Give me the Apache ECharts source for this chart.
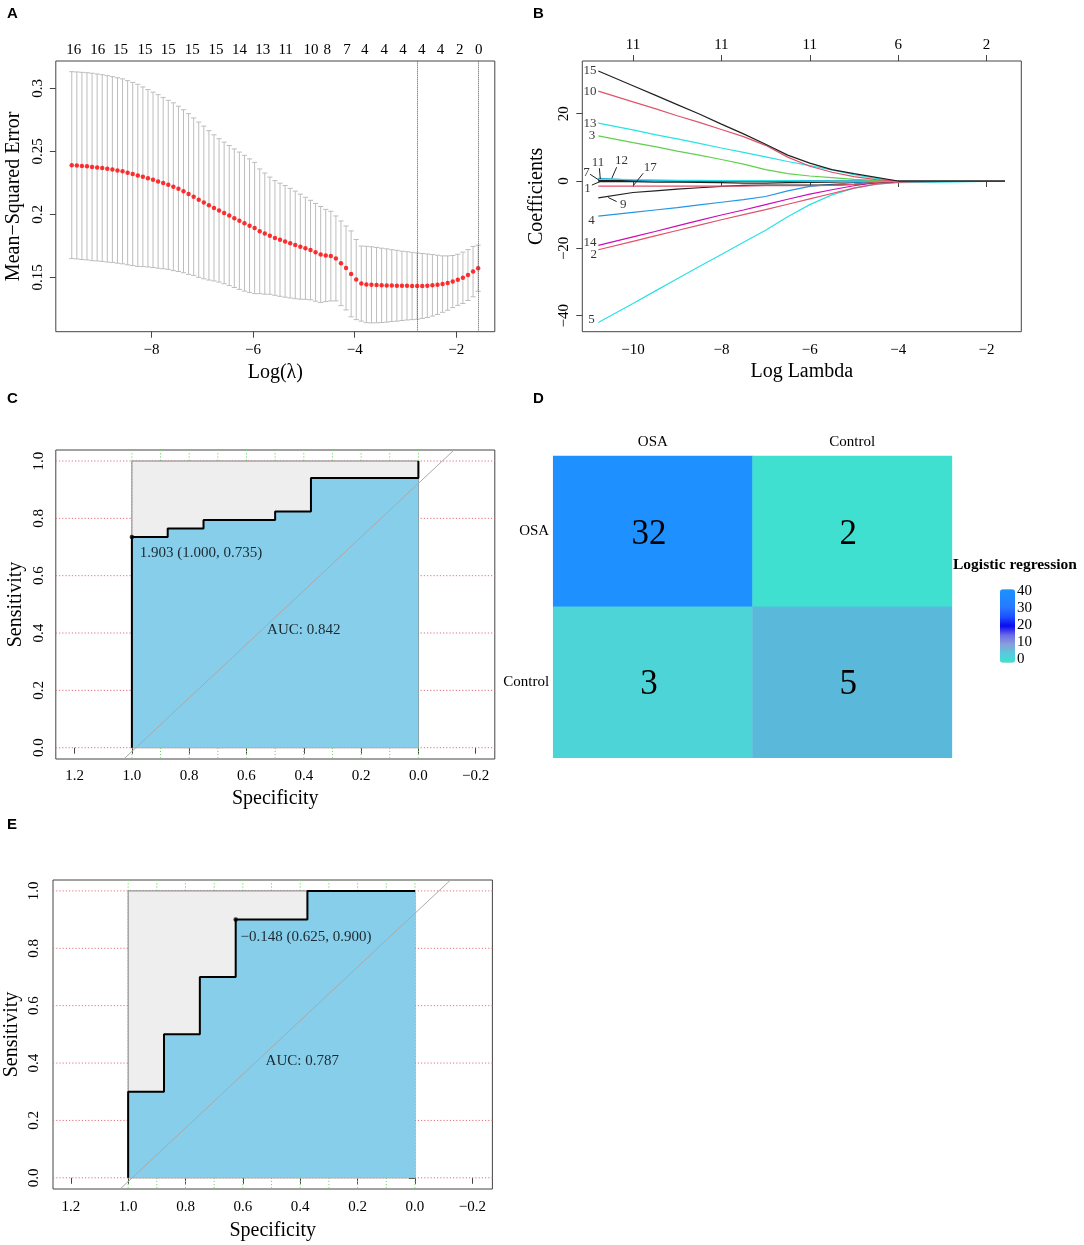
<!DOCTYPE html>
<html>
<head>
<meta charset="utf-8">
<title>LASSO / ROC / confusion matrix</title>
<script src="https://cdn.jsdelivr.net/npm/echarts@6/dist/echarts.min.js"></script>
<style>
  html, body { margin: 0; padding: 0; background: #fff; }
  #main { width: 1084px; height: 1245px; }
</style>
</head>
<body>
<div id="main"></div>
<script>
// ---------- panel A : cross-validation curve ----------
var aLogLambda = [
  -9.57, -9.47, -9.37, -9.27, -9.17, -9.07, -8.97, -8.87, -8.77, -8.67,
  -8.57, -8.47, -8.37, -8.27, -8.17, -8.07, -7.97, -7.87, -7.77, -7.67,
  -7.57, -7.47, -7.37, -7.27, -7.17, -7.07, -6.97, -6.87, -6.77, -6.67,
  -6.57, -6.47, -6.37, -6.27, -6.17, -6.07, -5.97, -5.87, -5.77, -5.67,
  -5.57, -5.47, -5.37, -5.27, -5.17, -5.07, -4.97, -4.87, -4.77, -4.67,
  -4.57, -4.47, -4.37, -4.27, -4.17, -4.07, -3.97, -3.87, -3.77, -3.67,
  -3.57, -3.47, -3.37, -3.27, -3.17, -3.07, -2.97, -2.87, -2.77, -2.67,
  -2.57, -2.47, -2.37, -2.27, -2.17, -2.07, -1.97, -1.87, -1.77, -1.67,
  -1.57
];
var aCvm = [
  0.2390, 0.2388, 0.2384, 0.2381, 0.2376, 0.2372, 0.2367, 0.2361, 0.2355, 0.2348,
  0.2341, 0.2330, 0.2320, 0.2309, 0.2298, 0.2286, 0.2274, 0.2261, 0.2248, 0.2234,
  0.2219, 0.2202, 0.2183, 0.2161, 0.2140, 0.2116, 0.2094, 0.2071, 0.2051, 0.2031,
  0.2011, 0.1990, 0.1969, 0.1949, 0.1929, 0.1910, 0.1891, 0.1865, 0.1847, 0.1830,
  0.1812, 0.1798, 0.1785, 0.1771, 0.1757, 0.1743, 0.1730, 0.1716, 0.1698, 0.1681,
  0.1673, 0.1668, 0.1650, 0.1611, 0.1574, 0.1527, 0.1482, 0.1450, 0.1443, 0.1440,
  0.1438, 0.1436, 0.1435, 0.1434, 0.1433, 0.1432, 0.1432, 0.1431, 0.1430, 0.1431,
  0.1433, 0.1436, 0.1440, 0.1446, 0.1454, 0.1466, 0.1480, 0.1496, 0.1518, 0.1545,
  0.1572
];
var aCvsd = [
  0.0742, 0.0742, 0.0743, 0.0743, 0.0744, 0.0742, 0.0741, 0.0740, 0.0738, 0.0736,
  0.0734, 0.0731, 0.0727, 0.0723, 0.0713, 0.0704, 0.0696, 0.0689, 0.0680, 0.0671,
  0.0666, 0.0656, 0.0647, 0.0638, 0.0625, 0.0616, 0.0606, 0.0593, 0.0580, 0.0569,
  0.0562, 0.0556, 0.0550, 0.0545, 0.0539, 0.0530, 0.0521, 0.0495, 0.0481, 0.0465,
  0.0455, 0.0449, 0.0443, 0.0435, 0.0427, 0.0417, 0.0405, 0.0395, 0.0388, 0.0381,
  0.0366, 0.0356, 0.0337, 0.0336, 0.0333, 0.0341, 0.0318, 0.0298, 0.0303, 0.0302,
  0.0299, 0.0295, 0.0291, 0.0285, 0.0281, 0.0275, 0.0271, 0.0267, 0.0263, 0.0258,
  0.0252, 0.0244, 0.0235, 0.0224, 0.0216, 0.0207, 0.0203, 0.0204, 0.0202, 0.0200,
  0.0183
];
var aTopPos = [-9.53, -9.06, -8.61, -8.13, -7.67, -7.20, -6.73, -6.27, -5.81, -5.36,
               -4.86, -4.54, -4.15, -3.80, -3.42, -3.05, -2.68, -2.31, -1.93, -1.56];
var aTopNz = [16, 16, 15, 15, 15, 15, 15, 14, 13, 11, 10, 8, 7, 4, 4, 4, 4, 4, 2, 0];
var aCutLines = [-2.77, -1.57];
var aXTicks = [-8, -6, -4, -2];
var aYTicks = [0.15, 0.2, 0.25, 0.3];

// ---------- panel B : coefficient paths ----------
var bLogLambda = [-10.785, -10, -9.5, -9, -8.5, -8, -7.5, -7, -6.5, -6, -5.5, -5, -4.5, -4, -3, -2, -1.584];
var b15 = [32.7, 28.3, 25.5, 22.7, 19.9, 16.9, 14.0, 10.9, 7.7, 5.3, 3.4, 2.2, 1.1, 0, 0, 0, 0];
var b10 = [26.7, 23.5, 21.5, 19.4, 17.4, 15.3, 13.2, 10.6, 7.1, 4.4, 2.6, 1.3, 0.4, 0, 0, 0, 0];
var b13 = [17.2, 15.2, 13.8, 12.5, 11.2, 9.8, 8.5, 7.2, 5.8, 4.6, 3.3, 1.9, 0.8, 0, 0, 0, 0];
var b3  = [13.4, 11.4, 10.2, 8.9, 7.7, 6.4, 5.0, 3.4, 2.2, 1.5, 1.0, 0.5, 0.2, 0, 0, 0, 0];
var b11 = [0.6, 0.4, 0.3, 0.2, 0.2, 0.1, 0.1, 0.1, 0.1, 0, 0, 0, 0, 0, 0, 0, 0];
var b12 = [0.8, 0.3, 0.2, 0.1, 0.1, 0.1, 0.1, 0.1, 0.1, 0.1, 0, 0, 0, 0, 0, 0, 0];
var b7  = [0.2, 0.1, 0.1, 0, 0, 0, 0, 0, 0, 0, 0, 0, 0, 0, 0, 0, 0];
var b1  = [-0.2, -0.2, -0.3, -0.3, -0.4, -0.5, -0.6, -0.6, -0.5, -0.4, -0.3, -0.2, -0.1, 0, 0, 0, 0];
var b17 = [-1.5, -1.5, -1.5, -1.5, -1.5, -1.5, -1.5, -1.4, -1.4, -1.4, -1.3, -1.0, -0.4, 0, 0, 0, 0];
var b9  = [-5.0, -3.4, -2.9, -2.4, -2.0, -1.6, -1.3, -1.2, -1.2, -1.2, -1.2, -1.0, -0.5, 0, 0, 0, 0];
var b4  = [-10.4, -9.3, -8.6, -7.9, -7.1, -6.3, -5.5, -4.6, -2.9, -1.6, -1.0, -0.5, -0.2, 0, 0, 0, 0];
var b14 = [-19.1, -16.6, -15.0, -13.3, -11.7, -10.1, -8.6, -7.0, -5.4, -3.9, -2.6, -1.4, -0.5, 0, 0, 0, 0];
var b2  = [-20.4, -17.9, -16.3, -14.7, -13.1, -11.5, -10.0, -8.5, -6.9, -5.3, -3.7, -2.1, -0.9, -0.3, -0.1, 0, 0];
var b5  = [-42.0, -36.4, -32.7, -29.0, -25.4, -21.8, -18.2, -14.6, -10.6, -7.0, -4.1, -2.1, -0.9, -0.5, -0.3, -0.1, -0.1];
var bLabText = ['15', '10', '13', '3', '11', '12', '17', '7', '1', '9', '4', '14', '2', '5'];
var bLabX = [-10.97, -10.97, -10.97, -10.93, -10.79, -10.26, -9.61, -11.05, -11.03, -10.22, -10.94, -10.97, -10.89, -10.94];
var bLabY = [32.7, 26.7, 17.2, 13.4, 5.5, 6.2, 4.0, 2.5, -2.3, -7.1, -11.8, -18.2, -21.8, -41.1];
var bLeaders = [
  [-10.76, 3.8, -10.74, 0.6],
  [-10.37, 4.1, -10.48, 0.8],
  [-9.77, 2.3, -9.99, -1.3],
  [-10.97, 2.0, -10.75, 0.1],
  [-10.93, -1.2, -10.75, -0.2],
  [-10.37, -6.1, -10.56, -4.9]
];
var bXTicks = [-10, -8, -6, -4, -2];
var bTopNz = [11, 11, 11, 6, 2];
var bYTicks = [-40, -20, 0, 20];

// ---------- panels C and E : ROC curves ----------
var cSpec = [1, 1, 0.875, 0.875, 0.75, 0.75, 0.5, 0.5, 0.375, 0.375, 0, 0];
var cSens = [0, 0.735, 0.735, 0.765, 0.765, 0.794, 0.794, 0.824, 0.824, 0.941, 0.941, 1];
var cBest = [1.0, 0.735];
var cBestText = '1.903 (1.000, 0.735)';
var cAucText = 'AUC: 0.842';

var eSpec = [1, 1, 0.875, 0.875, 0.75, 0.75, 0.625, 0.625, 0.375, 0.375, 0];
var eSens = [0, 0.3, 0.3, 0.5, 0.5, 0.7, 0.7, 0.9, 0.9, 1, 1];
var eBest = [0.625, 0.9];
var eBestText = '\u22120.148 (0.625, 0.900)';
var eAucText = 'AUC: 0.787';

var rocXTicks = [1.2, 1.0, 0.8, 0.6, 0.4, 0.2, 0.0, -0.2];
var rocYTicks = [0, 0.2, 0.4, 0.6, 0.8, 1.0];
var rocGridV = [0, 0.1, 0.2, 0.3, 0.4, 0.5, 0.6, 0.7, 0.8, 0.9, 1.0];
var rocMaxPoly = [[1, 0], [1, 1], [0, 1], [0, 0], [1, 0]];
var rocDiag = [[1.028, -0.0394], [-0.1245, 1.0384]];

// ---------- panel D : confusion matrix ----------
var dCols = ['OSA', 'Control'];
var dRows = ['Control', 'OSA'];
var dCells = [[0, 1, 32], [1, 1, 2], [0, 0, 3], [1, 0, 5]];
var dCellColors = ['#1E90FF', '#40E0D0', '#4DD4D6', '#5AB9DA'];
var dLegendTicks = [0, 10, 20, 30, 40];

var FONT = 'Liberation Serif';

function rmin(s) { return String(s).replace('-', '\u2212'); }

function vAxis(o) {
  return {
    type: 'value', gridIndex: o.grid, position: o.pos, min: o.min, max: o.max,
    inverse: !!o.inverse,
    name: o.name || '', nameLocation: 'middle', nameGap: o.nameGap || 30,
    nameTextStyle: { fontFamily: FONT, fontSize: 20, color: '#000' },
    axisLine: { show: false },
    axisTick: { show: o.tick !== false, customValues: o.ticks, length: 6, lineStyle: { color: '#444' } },
    axisLabel: {
      customValues: o.ticks, formatter: o.fmt, margin: o.margin, rotate: o.rotate || 0,
      fontFamily: FONT, fontSize: 15, color: '#000'
    },
    splitLine: { show: false }
  };
}

function boxGrid(left, top, width, height) {
  return { left: left, top: top, width: width, height: height, show: true,
           borderColor: '#444', borderWidth: 1, backgroundColor: 'transparent',
           containLabel: false, outerBoundsMode: 'none' };
}

function segRender(color) {
  return function (params, api) {
    var p1 = api.coord([api.value(0), api.value(1)]);
    var p2 = api.coord([api.value(2), api.value(3)]);
    return { type: 'line', shape: { x1: p1[0], y1: p1[1], x2: p2[0], y2: p2[1] },
             style: { stroke: color, lineWidth: 1 } };
  };
}

function errBar(params, api) {
  var x = api.value(0);
  var top = api.coord([x, api.value(2)]);
  var bot = api.coord([x, api.value(1)]);
  var w = 2.6;
  var st = { stroke: '#BDBDBD', lineWidth: 1 };
  return { type: 'group', children: [
    { type: 'line', shape: { x1: top[0], y1: top[1], x2: bot[0], y2: bot[1] }, style: st },
    { type: 'line', shape: { x1: top[0] - w, y1: top[1], x2: top[0] + w, y2: top[1] }, style: st },
    { type: 'line', shape: { x1: bot[0] - w, y1: bot[1], x2: bot[0] + w, y2: bot[1] }, style: st }
  ] };
}

// dotted grid lines spanning the whole plot box (horizontal or vertical)
function gridLineRender(horizontal, color) {
  return function (params, api) {
    var cs = params.coordSys;
    var v = api.value(0);
    var shape;
    if (horizontal) {
      var y = api.coord([0.5, v])[1];
      shape = { x1: cs.x, y1: y, x2: cs.x + cs.width, y2: y };
    } else {
      var x = api.coord([v, 0.5])[0];
      shape = { x1: x, y1: cs.y, x2: x, y2: cs.y + cs.height };
    }
    return { type: 'line', shape: shape, style: { stroke: color, lineWidth: 1, lineDash: [1.2, 2] } };
  };
}

function rocSeries(xi, yi, spec, sens, best, bestText, bestPos, aucText, aucPos) {
  return [
    { type: 'custom', xAxisIndex: xi, yAxisIndex: yi, silent: true, z: 1,
      renderItem: gridLineRender(true, '#E3707E'), data: rocYTicks.map(function (v) { return [v]; }) },
    { type: 'custom', xAxisIndex: xi, yAxisIndex: yi, silent: true, z: 1,
      renderItem: gridLineRender(false, '#74D468'), data: rocGridV.map(function (v) { return [v]; }) },
    { type: 'line', xAxisIndex: xi, yAxisIndex: yi, data: rocMaxPoly, showSymbol: false, silent: true, z: 2,
      lineStyle: { color: '#808080', width: 1 }, areaStyle: { color: '#EEEEEE', opacity: 1 } },
    { type: 'line', xAxisIndex: xi, yAxisIndex: yi, showSymbol: false, silent: true, z: 3,
      data: spec.map(function (s, k) { return [s, sens[k]]; }),
      lineStyle: { color: '#000', width: 2 }, areaStyle: { color: '#87CEEB', opacity: 1 } },
    { type: 'line', xAxisIndex: xi, yAxisIndex: yi, data: rocDiag, showSymbol: false, silent: true, z: 4,
      lineStyle: { color: '#A9A9A9', width: 1 } },
    { type: 'scatter', xAxisIndex: xi, yAxisIndex: yi, data: [best], symbolSize: 4.5, z: 5,
      itemStyle: { color: '#000' },
      label: { show: true, formatter: bestText, position: bestPos, align: 'left', verticalAlign: 'middle',
               fontFamily: FONT, fontSize: 15, color: '#000' } },
    { type: 'scatter', xAxisIndex: xi, yAxisIndex: yi, data: [aucPos], symbolSize: 0, z: 5,
      label: { show: true, formatter: aucText, position: 'inside',
               fontFamily: FONT, fontSize: 15, color: '#000' } }
  ];
}

var bLineDefs = [
  [b5, '#28E2E5'], [b2, '#DF536B'], [b14, '#CD0BBC'], [b4, '#2297E6'], [b9, '#222222'],
  [b17, '#DF536B'], [b1, '#222222'], [b7, '#222222'], [b12, '#2297E6'], [b11, '#28E2E5'],
  [b3, '#61D04F'], [b13, '#28E2E5'], [b10, '#DF536B'], [b15, '#222222']
];

var series = [];

// A
series.push({
  type: 'custom', xAxisIndex: 0, yAxisIndex: 0, renderItem: errBar, silent: true, z: 2,
  encode: { x: 0, y: [1, 2] },
  data: aLogLambda.map(function (x, k) { return [x, aCvm[k] - aCvsd[k], aCvm[k] + aCvsd[k]]; })
});
series.push({
  type: 'scatter', xAxisIndex: 0, yAxisIndex: 0, symbolSize: 4.5, z: 3,
  itemStyle: { color: '#FF0000' },
  data: aLogLambda.map(function (x, k) { return [x, aCvm[k]]; }),
  markLine: { silent: true, symbol: 'none', label: { show: false },
              lineStyle: { color: '#555', type: 'dotted', width: 1 },
              data: aCutLines.map(function (v) { return { xAxis: v }; }) }
});

// B
bLineDefs.forEach(function (d) {
  series.push({
    type: 'line', xAxisIndex: 2, yAxisIndex: 1, showSymbol: false, silent: true, z: 2,
    smooth: false,
    lineStyle: { color: d[1], width: 1.2 },
    data: bLogLambda.map(function (x, k) { return [x, d[0][k]]; })
  });
});
series.push({
  type: 'custom', xAxisIndex: 2, yAxisIndex: 1, renderItem: segRender('#222'), silent: true, z: 3,
  encode: { x: [0, 2], y: [1, 3] }, data: bLeaders
});
series.push({
  type: 'scatter', xAxisIndex: 2, yAxisIndex: 1, symbolSize: 0, silent: true, z: 4,
  data: bLabText.map(function (t, k) { return { name: t, value: [bLabX[k], bLabY[k]] }; }),
  label: { show: true, position: 'inside', formatter: '{b}', fontFamily: FONT, fontSize: 13, color: '#000' }
});

// C and E
series = series.concat(rocSeries(4, 2, cSpec, cSens, cBest, cBestText, [10, 18], cAucText, [0.4, 0.41]));
series = series.concat(rocSeries(5, 3, eSpec, eSens, eBest, eBestText, [7, 20], eAucText, [0.393, 0.408]));

// D
series.push({
  type: 'heatmap', xAxisIndex: 6, yAxisIndex: 4, silent: true,
  data: dCells.map(function (c, k) { return { value: c, itemStyle: { color: dCellColors[k] } }; }),
  label: { show: true, fontFamily: FONT, fontSize: 35, color: '#000', offset: [-4, 3],
           formatter: function (p) { return p.value[2]; } }
});
var dummyIdx = series.length;
series.push({ type: 'scatter', xAxisIndex: 7, yAxisIndex: 5, data: [] });

var option = {
  animation: false,
  backgroundColor: '#fff',
  title: [
    { text: 'A', left: 7, top: 6 },
    { text: 'B', left: 533, top: 6 },
    { text: 'C', left: 7, top: 391 },
    { text: 'D', left: 533, top: 391 },
    { text: 'E', left: 7, top: 817 },
    { text: 'Logistic regression', left: 953, top: 557,
      textStyle: { fontFamily: FONT, fontSize: 15.5, fontWeight: 'bold', color: '#000' } }
  ].map(function (t) {
    t.padding = 0;
    t.textStyle = t.textStyle || { fontFamily: 'Liberation Sans', fontSize: 15, fontWeight: 'bold', color: '#000' };
    return t;
  }),
  grid: [
    boxGrid(55.8, 61, 439, 270.7),
    boxGrid(582.3, 61, 439, 270.7),
    boxGrid(55.8, 450, 439, 309),
    boxGrid(53, 880, 439.4, 309),
    { left: 553.2, top: 456, width: 398.7, height: 301.7, show: false, containLabel: false, outerBoundsMode: 'none' },
    { left: 1000, top: 589.3, width: 15, height: 73.4, show: false, containLabel: false, outerBoundsMode: 'none' }
  ],
  xAxis: [
    vAxis({ grid: 0, pos: 'bottom', min: -9.884, max: -1.242, ticks: aXTicks, fmt: rmin, margin: 11,
            name: 'Log(\u03bb)', nameGap: 31 }),
    vAxis({ grid: 0, pos: 'top', min: -9.884, max: -1.242, ticks: aTopPos, tick: false, margin: 3,
            fmt: function (v) { return String(aTopNz[aTopPos.indexOf(v)]); } }),
    vAxis({ grid: 1, pos: 'bottom', min: -11.147, max: -1.215, ticks: bXTicks, fmt: rmin, margin: 11,
            name: 'Log Lambda', nameGap: 30 }),
    vAxis({ grid: 1, pos: 'top', min: -11.147, max: -1.215, ticks: bXTicks, margin: 8,
            fmt: function (v) { return String(bTopNz[bXTicks.indexOf(v)]); } }),
    vAxis({ grid: 2, pos: 'bottom', min: -0.2667, max: 1.2656, inverse: true, ticks: rocXTicks, margin: 10,
            fmt: function (v) { return rmin(v.toFixed(1)); }, name: 'Specificity', nameGap: 30 }),
    vAxis({ grid: 3, pos: 'bottom', min: -0.27, max: 1.262, inverse: true, ticks: rocXTicks, margin: 11,
            fmt: function (v) { return rmin(v.toFixed(1)); }, name: 'Specificity', nameGap: 32 }),
    { type: 'category', gridIndex: 4, position: 'top', data: dCols,
      axisLine: { show: false }, axisTick: { show: false }, splitLine: { show: false },
      axisLabel: { margin: 6, fontFamily: FONT, fontSize: 15, color: '#000' } },
    { type: 'value', gridIndex: 5, min: 0, max: 1, show: false }
  ],
  yAxis: [
    vAxis({ grid: 0, pos: 'left', min: 0.1068, max: 0.3217, ticks: aYTicks, rotate: 90, margin: 10,
            fmt: function (v) { return String(v); }, name: 'Mean\u2212Squared Error', nameGap: 32 }),
    vAxis({ grid: 1, pos: 'left', min: -44.75, max: 35.65, ticks: bYTicks, rotate: 90, margin: 11,
            fmt: rmin, name: 'Coefficients', nameGap: 36 }),
    vAxis({ grid: 2, pos: 'left', min: -0.0394, max: 1.0384, ticks: rocYTicks, rotate: 90, margin: 9,
            fmt: function (v) { return v.toFixed(1); }, name: 'Sensitivity', nameGap: 30 }),
    vAxis({ grid: 3, pos: 'left', min: -0.039, max: 1.038, ticks: rocYTicks, rotate: 90, margin: 11,
            fmt: function (v) { return v.toFixed(1); }, name: 'Sensitivity', nameGap: 31 }),
    { type: 'category', gridIndex: 4, data: dRows,
      axisLine: { show: false }, axisTick: { show: false }, splitLine: { show: false },
      axisLabel: { margin: 4, fontFamily: FONT, fontSize: 15, color: '#000' } },
    { type: 'value', gridIndex: 5, position: 'right', min: -2, max: 40.8,
      axisLine: { show: false }, splitLine: { show: false },
      axisTick: { show: true, inside: true, length: 3, customValues: dLegendTicks,
                  lineStyle: { color: '#fff', width: 1 } },
      axisLabel: { customValues: dLegendTicks, margin: 2, fontFamily: FONT, fontSize: 15, color: '#000' } }
  ],
  visualMap: {
    type: 'continuous', seriesIndex: dummyIdx, min: -2, max: 40.8, calculable: false,
    orient: 'vertical', left: 1000, top: 589.3, itemWidth: 15, itemHeight: 73.4, padding: 0,
    inRange: { color: ['#40E0D0', '#55CCDC', '#8A9FDC', '#6B6BE8', '#0A0AF0', '#1E50FF', '#2878FF', '#1E88FF', '#1E90FF'] }
  },
  series: series
};

var chart = echarts.init(document.getElementById('main'));
chart.setOption(option);
</script>
</body>
</html>
